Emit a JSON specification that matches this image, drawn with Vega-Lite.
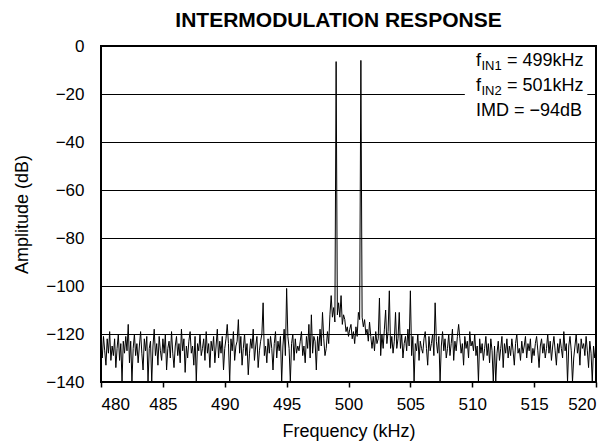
{
  "$schema": "https://vega.github.io/schema/vega-lite/v6.json",
  "width": 495,
  "height": 336,
  "autosize": {"type": "none"},
  "padding": {"left": 101, "top": 46, "right": 17, "bottom": 63},
  "background": "white",
  "title": {"text": "INTERMODULATION RESPONSE", "font": "Liberation Sans", "fontSize": 21, "fontWeight": "bold", "color": "black", "anchor": "middle", "offset": 6, "dx": -10},
  "config": {
    "view": {"stroke": "black", "strokeWidth": 2},
    "axis": {"labelFont": "Liberation Sans", "titleFont": "Liberation Sans", "labelColor": "black", "titleColor": "black", "labelFontSize": 17, "titleFontSize": 18, "titleFontWeight": "normal", "domain": false}
  },
  "data": {"values": [
    {"f":480.0,"a":-124},{"f":480.1,"a":-130},{"f":480.2,"a":-121},{"f":480.3,"a":-127},{"f":480.4,"a":-133},{"f":480.5,"a":-122},{"f":480.6,"a":-128},{"f":480.7,"a":-119},{"f":480.8,"a":-131},{"f":480.9,"a":-125},
    {"f":481.0,"a":-129},{"f":481.1,"a":-122},{"f":481.2,"a":-134},{"f":481.3,"a":-126},{"f":481.4,"a":-120},{"f":481.5,"a":-131},{"f":481.6,"a":-124},{"f":481.7,"a":-140},{"f":481.8,"a":-123},{"f":481.9,"a":-128},
    {"f":482.0,"a":-121},{"f":482.1,"a":-127},{"f":482.2,"a":-116},{"f":482.3,"a":-132},{"f":482.4,"a":-123},{"f":482.5,"a":-140},{"f":482.6,"a":-126},{"f":482.7,"a":-120},{"f":482.8,"a":-129},{"f":482.9,"a":-124},
    {"f":483.0,"a":-132},{"f":483.1,"a":-125},{"f":483.2,"a":-119},{"f":483.3,"a":-128},{"f":483.4,"a":-135},{"f":483.5,"a":-122},{"f":483.6,"a":-127},{"f":483.7,"a":-121},{"f":483.8,"a":-140},{"f":483.9,"a":-126},
    {"f":484.0,"a":-123},{"f":484.1,"a":-140},{"f":484.2,"a":-125},{"f":484.3,"a":-118},{"f":484.4,"a":-129},{"f":484.5,"a":-124},{"f":484.6,"a":-133},{"f":484.7,"a":-121},{"f":484.8,"a":-127},{"f":484.9,"a":-131},
    {"f":485.0,"a":-122},{"f":485.1,"a":-128},{"f":485.2,"a":-120},{"f":485.3,"a":-135},{"f":485.4,"a":-126},{"f":485.5,"a":-123},{"f":485.6,"a":-130},{"f":485.7,"a":-119},{"f":485.8,"a":-128},{"f":485.9,"a":-134},
    {"f":486.0,"a":-125},{"f":486.1,"a":-121},{"f":486.2,"a":-129},{"f":486.3,"a":-124},{"f":486.4,"a":-132},{"f":486.5,"a":-118},{"f":486.6,"a":-127},{"f":486.7,"a":-122},{"f":486.8,"a":-136},{"f":486.9,"a":-125},
    {"f":487.0,"a":-130},{"f":487.1,"a":-123},{"f":487.2,"a":-119},{"f":487.3,"a":-128},{"f":487.4,"a":-125},{"f":487.5,"a":-133},{"f":487.6,"a":-121},{"f":487.7,"a":-140},{"f":487.8,"a":-124},{"f":487.9,"a":-127},
    {"f":488.0,"a":-120},{"f":488.1,"a":-129},{"f":488.2,"a":-126},{"f":488.3,"a":-122},{"f":488.4,"a":-131},{"f":488.5,"a":-119},{"f":488.6,"a":-128},{"f":488.7,"a":-124},{"f":488.8,"a":-134},{"f":488.9,"a":-123},
    {"f":489.0,"a":-127},{"f":489.1,"a":-121},{"f":489.2,"a":-132},{"f":489.3,"a":-125},{"f":489.4,"a":-118},{"f":489.5,"a":-130},{"f":489.6,"a":-123},{"f":489.7,"a":-128},{"f":489.8,"a":-121},{"f":489.9,"a":-135},
    {"f":490.0,"a":-126},{"f":490.1,"a":-122},{"f":490.2,"a":-116},{"f":490.3,"a":-124},{"f":490.4,"a":-140},{"f":490.5,"a":-122},{"f":490.6,"a":-127},{"f":490.7,"a":-119},{"f":490.8,"a":-131},{"f":490.9,"a":-125},
    {"f":491.0,"a":-123},{"f":491.1,"a":-114},{"f":491.2,"a":-128},{"f":491.3,"a":-121},{"f":491.4,"a":-133},{"f":491.5,"a":-126},{"f":491.6,"a":-120},{"f":491.7,"a":-129},{"f":491.8,"a":-124},{"f":491.9,"a":-137},
    {"f":492.0,"a":-128},{"f":492.1,"a":-122},{"f":492.2,"a":-126},{"f":492.3,"a":-118},{"f":492.4,"a":-131},{"f":492.5,"a":-125},{"f":492.6,"a":-121},{"f":492.7,"a":-134},{"f":492.8,"a":-127},{"f":492.9,"a":-123},
    {"f":493.0,"a":-120},{"f":493.1,"a":-107},{"f":493.2,"a":-129},{"f":493.3,"a":-125},{"f":493.4,"a":-132},{"f":493.5,"a":-122},{"f":493.6,"a":-128},{"f":493.7,"a":-121},{"f":493.8,"a":-126},{"f":493.9,"a":-135},
    {"f":494.0,"a":-124},{"f":494.1,"a":-119},{"f":494.2,"a":-130},{"f":494.3,"a":-123},{"f":494.4,"a":-127},{"f":494.5,"a":-121},{"f":494.6,"a":-140},{"f":494.7,"a":-125},{"f":494.8,"a":-118},{"f":494.9,"a":-129},
    {"f":495.0,"a":-101},{"f":495.1,"a":-121},{"f":495.2,"a":-126},{"f":495.3,"a":-140},{"f":495.4,"a":-124},{"f":495.5,"a":-120},{"f":495.6,"a":-131},{"f":495.7,"a":-122},{"f":495.8,"a":-128},{"f":495.9,"a":-125},
    {"f":496.0,"a":-127},{"f":496.1,"a":-123},{"f":496.2,"a":-119},{"f":496.3,"a":-129},{"f":496.4,"a":-125},{"f":496.5,"a":-132},{"f":496.6,"a":-121},{"f":496.7,"a":-126},{"f":496.8,"a":-116},{"f":496.9,"a":-130},
    {"f":497.0,"a":-112},{"f":497.1,"a":-128},{"f":497.2,"a":-121},{"f":497.3,"a":-123},{"f":497.4,"a":-135},{"f":497.5,"a":-121},{"f":497.6,"a":-127},{"f":497.7,"a":-118},{"f":497.8,"a":-125},{"f":497.9,"a":-111},
    {"f":498.0,"a":-122},{"f":498.1,"a":-129},{"f":498.2,"a":-126},{"f":498.3,"a":-119},{"f":498.4,"a":-124},{"f":498.5,"a":-112},{"f":498.6,"a":-104},{"f":498.7,"a":-113},{"f":498.8,"a":-109},{"f":498.9,"a":-115},
    {"f":499.0,"a":-6.5},{"f":499.1,"a":-112},{"f":499.2,"a":-107},{"f":499.3,"a":-113},{"f":499.4,"a":-104},{"f":499.5,"a":-116},{"f":499.6,"a":-112},{"f":499.7,"a":-114},{"f":499.8,"a":-119},{"f":499.9,"a":-117},
    {"f":500.0,"a":-121},{"f":500.1,"a":-118},{"f":500.2,"a":-116},{"f":500.3,"a":-122},{"f":500.4,"a":-119},{"f":500.5,"a":-124},{"f":500.6,"a":-117},{"f":500.7,"a":-121},{"f":500.8,"a":-111},{"f":500.9,"a":-114},
    {"f":501.0,"a":-6},{"f":501.1,"a":-113},{"f":501.2,"a":-117},{"f":501.3,"a":-114},{"f":501.4,"a":-120},{"f":501.5,"a":-118},{"f":501.6,"a":-123},{"f":501.7,"a":-115},{"f":501.8,"a":-121},{"f":501.9,"a":-126},
    {"f":502.0,"a":-121},{"f":502.1,"a":-127},{"f":502.2,"a":-119},{"f":502.3,"a":-124},{"f":502.4,"a":-122},{"f":502.5,"a":-105},{"f":502.6,"a":-129},{"f":502.7,"a":-120},{"f":502.8,"a":-126},{"f":502.9,"a":-118},
    {"f":503.0,"a":-110},{"f":503.1,"a":-124},{"f":503.2,"a":-119},{"f":503.3,"a":-102},{"f":503.4,"a":-126},{"f":503.5,"a":-121},{"f":503.6,"a":-128},{"f":503.7,"a":-123},{"f":503.8,"a":-111},{"f":503.9,"a":-126},
    {"f":504.0,"a":-122},{"f":504.1,"a":-111},{"f":504.2,"a":-126},{"f":504.3,"a":-120},{"f":504.4,"a":-130},{"f":504.5,"a":-124},{"f":504.6,"a":-121},{"f":504.7,"a":-127},{"f":504.8,"a":-118},{"f":504.9,"a":-125},
    {"f":505.0,"a":-102},{"f":505.1,"a":-129},{"f":505.2,"a":-121},{"f":505.3,"a":-140},{"f":505.4,"a":-124},{"f":505.5,"a":-127},{"f":505.6,"a":-120},{"f":505.7,"a":-131},{"f":505.8,"a":-123},{"f":505.9,"a":-126},
    {"f":506.0,"a":-128},{"f":506.1,"a":-122},{"f":506.2,"a":-119},{"f":506.3,"a":-126},{"f":506.4,"a":-133},{"f":506.5,"a":-121},{"f":506.6,"a":-127},{"f":506.7,"a":-124},{"f":506.8,"a":-120},{"f":506.9,"a":-129},
    {"f":507.0,"a":-107},{"f":507.1,"a":-123},{"f":507.2,"a":-128},{"f":507.3,"a":-121},{"f":507.4,"a":-140},{"f":507.5,"a":-125},{"f":507.6,"a":-119},{"f":507.7,"a":-127},{"f":507.8,"a":-122},{"f":507.9,"a":-130},
    {"f":508.0,"a":-126},{"f":508.1,"a":-120},{"f":508.2,"a":-129},{"f":508.3,"a":-124},{"f":508.4,"a":-118},{"f":508.5,"a":-131},{"f":508.6,"a":-123},{"f":508.7,"a":-127},{"f":508.8,"a":-121},{"f":508.9,"a":-116},
    {"f":509.0,"a":-122},{"f":509.1,"a":-128},{"f":509.2,"a":-124},{"f":509.3,"a":-133},{"f":509.4,"a":-121},{"f":509.5,"a":-126},{"f":509.6,"a":-123},{"f":509.7,"a":-130},{"f":509.8,"a":-119},{"f":509.9,"a":-125},
    {"f":510.0,"a":-123},{"f":510.1,"a":-127},{"f":510.2,"a":-120},{"f":510.3,"a":-129},{"f":510.4,"a":-125},{"f":510.5,"a":-140},{"f":510.6,"a":-122},{"f":510.7,"a":-128},{"f":510.8,"a":-124},{"f":510.9,"a":-131},
    {"f":511.0,"a":-126},{"f":511.1,"a":-121},{"f":511.2,"a":-129},{"f":511.3,"a":-124},{"f":511.4,"a":-132},{"f":511.5,"a":-122},{"f":511.6,"a":-127},{"f":511.7,"a":-140},{"f":511.8,"a":-125},{"f":511.9,"a":-140},
    {"f":512.0,"a":-128},{"f":512.1,"a":-123},{"f":512.2,"a":-131},{"f":512.3,"a":-126},{"f":512.4,"a":-121},{"f":512.5,"a":-134},{"f":512.6,"a":-124},{"f":512.7,"a":-128},{"f":512.8,"a":-122},{"f":512.9,"a":-130},
    {"f":513.0,"a":-125},{"f":513.1,"a":-129},{"f":513.2,"a":-122},{"f":513.3,"a":-127},{"f":513.4,"a":-133},{"f":513.5,"a":-124},{"f":513.6,"a":-120},{"f":513.7,"a":-128},{"f":513.8,"a":-126},{"f":513.9,"a":-131},
    {"f":514.0,"a":-123},{"f":514.1,"a":-128},{"f":514.2,"a":-125},{"f":514.3,"a":-121},{"f":514.4,"a":-130},{"f":514.5,"a":-124},{"f":514.6,"a":-127},{"f":514.7,"a":-122},{"f":514.8,"a":-132},{"f":514.9,"a":-126},
    {"f":515.0,"a":-129},{"f":515.1,"a":-124},{"f":515.2,"a":-121},{"f":515.3,"a":-127},{"f":515.4,"a":-134},{"f":515.5,"a":-125},{"f":515.6,"a":-122},{"f":515.7,"a":-128},{"f":515.8,"a":-124},{"f":515.9,"a":-130},
    {"f":516.0,"a":-126},{"f":516.1,"a":-120},{"f":516.2,"a":-128},{"f":516.3,"a":-123},{"f":516.4,"a":-131},{"f":516.5,"a":-125},{"f":516.6,"a":-121},{"f":516.7,"a":-127},{"f":516.8,"a":-133},{"f":516.9,"a":-124},
    {"f":517.0,"a":-128},{"f":517.1,"a":-122},{"f":517.2,"a":-126},{"f":517.3,"a":-130},{"f":517.4,"a":-119},{"f":517.5,"a":-127},{"f":517.6,"a":-124},{"f":517.7,"a":-140},{"f":517.8,"a":-125},{"f":517.9,"a":-121},
    {"f":518.0,"a":-127},{"f":518.1,"a":-140},{"f":518.2,"a":-130},{"f":518.3,"a":-125},{"f":518.4,"a":-120},{"f":518.5,"a":-128},{"f":518.6,"a":-124},{"f":518.7,"a":-133},{"f":518.8,"a":-122},{"f":518.9,"a":-126},
    {"f":519.0,"a":-124},{"f":519.1,"a":-129},{"f":519.2,"a":-121},{"f":519.3,"a":-127},{"f":519.4,"a":-134},{"f":519.5,"a":-123},{"f":519.6,"a":-128},{"f":519.7,"a":-140},{"f":519.8,"a":-125},{"f":519.9,"a":-130},
    {"f":520.0,"a":-126}
  ]},
  "layer": [
    {
      "mark": {"type": "line", "color": "black", "strokeWidth": 1, "clip": true},
      "encoding": {
        "x": {"field": "f", "type": "quantitative", "scale": {"domain": [480, 520], "nice": false, "zero": false},
              "axis": {"values": [480, 485, 490, 495, 500, 505, 510, 515, 520], "grid": false, "ticks": true, "tickSize": 5, "tickWidth": 1.5, "tickColor": "black", "labelPadding": 9, "title": "Frequency (kHz)", "titlePadding": 10}},
        "y": {"field": "a", "type": "quantitative", "scale": {"domain": [-140, 0], "nice": false, "zero": false},
              "axis": {"values": [-140, -120, -100, -80, -60, -40, -20, 0], "grid": true, "gridColor": "black", "gridWidth": 1, "gridOpacity": 1, "ticks": false, "labelPadding": 17, "title": "Amplitude (dB)", "titlePadding": 14}}
      }
    },
    {
      "data": {"values": [{}]},
      "mark": {"type": "rect", "fill": "white"},
      "encoding": {"x": {"datum": 509.4, "type": "quantitative"}, "x2": {"datum": 519.3}, "y": {"datum": -13, "type": "quantitative"}, "y2": {"datum": -26}}
    },
    {
      "data": {"values": [{}]},
      "mark": {"type": "text", "text": "f", "align": "left", "baseline": "alphabetic", "font": "Liberation Sans", "fontSize": 18, "color": "black"},
      "encoding": {"x": {"datum": 510.3, "type": "quantitative"}, "y": {"datum": -8.3, "type": "quantitative"}}
    },
    {
      "data": {"values": [{}]},
      "mark": {"type": "text", "text": "IN1", "align": "left", "baseline": "alphabetic", "font": "Liberation Sans", "fontSize": 13, "color": "black", "dx": 5.5, "dy": 4},
      "encoding": {"x": {"datum": 510.3, "type": "quantitative"}, "y": {"datum": -8.3, "type": "quantitative"}}
    },
    {
      "data": {"values": [{}]},
      "mark": {"type": "text", "text": "= 499kHz", "align": "left", "baseline": "alphabetic", "font": "Liberation Sans", "fontSize": 18, "color": "black", "dx": 31},
      "encoding": {"x": {"datum": 510.3, "type": "quantitative"}, "y": {"datum": -8.3, "type": "quantitative"}}
    },
    {
      "data": {"values": [{}]},
      "mark": {"type": "text", "text": "f", "align": "left", "baseline": "alphabetic", "font": "Liberation Sans", "fontSize": 18, "color": "black"},
      "encoding": {"x": {"datum": 510.3, "type": "quantitative"}, "y": {"datum": -18.75, "type": "quantitative"}}
    },
    {
      "data": {"values": [{}]},
      "mark": {"type": "text", "text": "IN2", "align": "left", "baseline": "alphabetic", "font": "Liberation Sans", "fontSize": 13, "color": "black", "dx": 5.5, "dy": 4},
      "encoding": {"x": {"datum": 510.3, "type": "quantitative"}, "y": {"datum": -18.75, "type": "quantitative"}}
    },
    {
      "data": {"values": [{}]},
      "mark": {"type": "text", "text": "= 501kHz", "align": "left", "baseline": "alphabetic", "font": "Liberation Sans", "fontSize": 18, "color": "black", "dx": 31},
      "encoding": {"x": {"datum": 510.3, "type": "quantitative"}, "y": {"datum": -18.75, "type": "quantitative"}}
    },
    {
      "data": {"values": [{}]},
      "mark": {"type": "text", "text": "IMD = −94dB", "align": "left", "baseline": "alphabetic", "font": "Liberation Sans", "fontSize": 18, "color": "black"},
      "encoding": {"x": {"datum": 510.3, "type": "quantitative"}, "y": {"datum": -29.2, "type": "quantitative"}}
    }
  ]
}
